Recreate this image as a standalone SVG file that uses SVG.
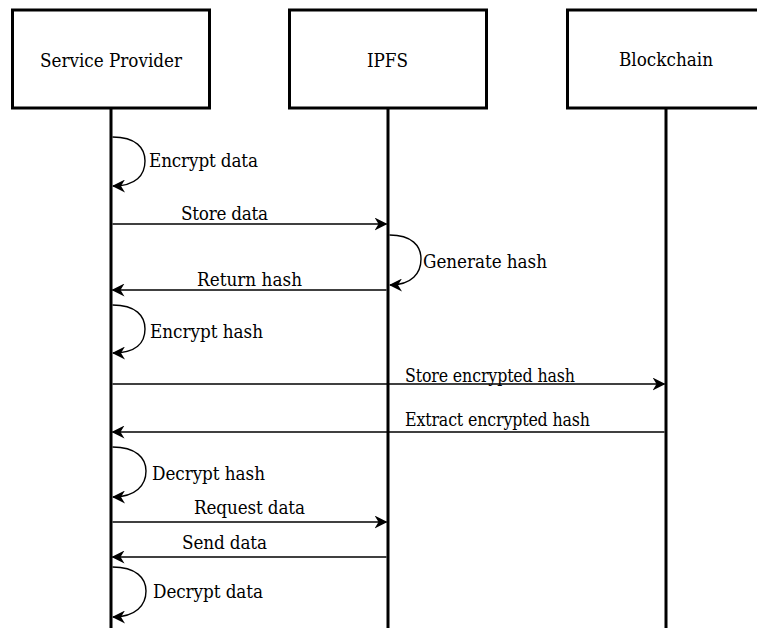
<svg xmlns="http://www.w3.org/2000/svg" width="757" height="628" viewBox="0 0 757 628">
  <defs>
    <style>
      .box { fill: #ffffff; stroke: #000000; stroke-width: 3; }
      .life { stroke: #000000; stroke-width: 3; fill: none; }
      .msg { stroke: #000000; stroke-width: 1.4; fill: none; }
      .lbl { font-family: "DejaVu Serif Condensed", "DejaVu Serif", serif; font-stretch: condensed; font-size: 18.7px; fill: #000000; }
      .long { font-size: 17.6px; }
    </style>
    <marker id="arrow" viewBox="0 0 13 13" refX="12" refY="6.5" markerWidth="13" markerHeight="13" markerUnits="userSpaceOnUse" orient="auto">
      <path d="M0,0 L13,6.5 L0,13 L4,6.5 Z" fill="#000000"/>
    </marker>
  </defs>
  <rect width="757" height="628" fill="#ffffff"/>

  <!-- participants -->
  <g id="service-provider">
    <line class="life" x1="111" y1="108" x2="111" y2="628"/>
    <rect class="box" x="12.5" y="10" width="197" height="98"/>
    <text class="lbl" x="40" y="67" textLength="142">Service Provider</text>
  </g>
  <g id="ipfs">
    <line class="life" x1="388" y1="108" x2="388" y2="628"/>
    <rect class="box" x="289.5" y="10" width="197" height="98"/>
    <text class="lbl" x="367" y="67" textLength="41">IPFS</text>
  </g>
  <g id="blockchain">
    <line class="life" x1="666" y1="108" x2="666" y2="628"/>
    <rect class="box" x="567.5" y="10" width="197" height="98"/>
    <text class="lbl" x="619" y="66" textLength="94">Blockchain</text>
  </g>

  <!-- messages -->
  <g id="connectors">
    <path class="msg" marker-end="url(#arrow)" d="M112.5,137 C136,137 145,148 145,161 C145,175 136,186 113,186"/>
    <line class="msg" marker-end="url(#arrow)" x1="112.5" y1="224" x2="386.5" y2="224"/>
    <path class="msg" marker-end="url(#arrow)" d="M389.5,235 C412,235 421,246 421,259 C421,273 412,285 390,285"/>
    <line class="msg" marker-end="url(#arrow)" x1="386.5" y1="290" x2="112.5" y2="290"/>
    <path class="msg" marker-end="url(#arrow)" d="M112.5,305 C136,305 145,316 145,329 C145,343 136,353 113,353"/>
    <line class="msg" marker-end="url(#arrow)" x1="112.5" y1="384" x2="664.5" y2="384"/>
    <line class="msg" marker-end="url(#arrow)" x1="664.5" y1="432" x2="112.5" y2="432"/>
    <path class="msg" marker-end="url(#arrow)" d="M112.5,447 C136,447 146,458 146,471 C146,485 136,497 113,497"/>
    <line class="msg" marker-end="url(#arrow)" x1="112.5" y1="522" x2="386.5" y2="522"/>
    <line class="msg" marker-end="url(#arrow)" x1="386.5" y1="557" x2="112.5" y2="557"/>
    <path class="msg" marker-end="url(#arrow)" d="M112.5,567 C136,567 146,578 146,591 C146,605 136,617 113,617"/>
  </g>

  <!-- message labels -->
  <g id="labels">
    <text class="lbl" x="149" y="166.5" textLength="109">Encrypt data</text>
    <text class="lbl" x="181" y="219.5" textLength="87">Store data</text>
    <text class="lbl" x="423" y="267.5" textLength="124">Generate hash</text>
    <text class="lbl" x="197" y="285.5" textLength="105">Return hash</text>
    <text class="lbl" x="150" y="337.5" textLength="113">Encrypt hash</text>
    <text class="lbl long" x="405" y="381.5" textLength="170">Store encrypted hash</text>
    <text class="lbl long" x="405" y="425.5" textLength="185">Extract encrypted hash</text>
    <text class="lbl" x="152" y="479.5" textLength="113">Decrypt hash</text>
    <text class="lbl" x="194" y="513.5" textLength="111">Request data</text>
    <text class="lbl" x="182" y="548.5" textLength="85">Send data</text>
    <text class="lbl" x="153" y="597.5" textLength="110">Decrypt data</text>
  </g>
</svg>
